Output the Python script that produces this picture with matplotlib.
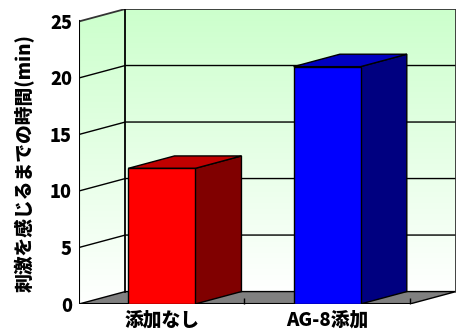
import matplotlib
matplotlib.use('Agg')
import matplotlib.pyplot as plt
import numpy as np
from matplotlib.patches import Polygon, Rectangle
from matplotlib.colors import LinearSegmentedColormap

plt.rcParams['font.family'] = ['Noto Sans CJK JP', 'DejaVu Sans']
plt.rcParams['font.weight'] = 'heavy'

categories = ['添加なし', 'AG-8添加']
values = [12, 21]
front_colors = ['#ff0000', '#0000ff']
top_colors = ['#c00000', '#0000c0']
side_colors = ['#800000', '#000080']
yticks = [0, 5, 10, 15, 20, 25]
ylabel = '刺激を感じるまでの時間(min)'

# oblique depth of the 3D box, in data units
dx, dy = 0.28, 1.1
bar_w = 0.405

fig = plt.figure(figsize=(4.6, 3.29), dpi=100)
ax = fig.add_axes([79 / 460, 25 / 329, 377 / 460, 295 / 329])
x0, x1 = -0.5, len(categories) - 0.5
ymax = yticks[-1]
ax.set_xlim(x0, x1 + dx)
ax.set_ylim(0, ymax + dy)
for s in ax.spines.values():
    s.set_visible(False)

# wall gradient, white at the floor to pale green at the top
grad = np.linspace(0, 1, 256).reshape(-1, 1)
cmap = LinearSegmentedColormap.from_list('wall', ['#ffffff', '#ccffcc'])

# back wall
ax.imshow(grad, cmap=cmap, origin='lower', aspect='auto',
          extent=[x0 + dx, x1 + dx, dy, ymax + dy], zorder=0)

# left wall
left = Polygon([(x0, 0), (x0 + dx, dy), (x0 + dx, ymax + dy), (x0, ymax)],
               closed=True, fc='none', ec='none')
ax.add_patch(left)
im = ax.imshow(grad, cmap=cmap, origin='lower', aspect='auto',
               extent=[x0, x0 + dx, 0, ymax + dy], zorder=0)
im.set_clip_path(left)

# floor
ax.add_patch(Polygon([(x0, 0), (x1, 0), (x1 + dx, dy), (x0 + dx, dy)],
                     closed=True, fc='#808080', ec='black', lw=1, zorder=1))

# gridlines on walls
for v in yticks[1:-1]:
    ax.plot([x0, x0 + dx, x1 + dx], [v, v + dy, v + dy], color='black', lw=1, zorder=1)
ax.plot([x0, x0 + dx, x1 + dx, x1 + dx], [ymax, ymax + dy, ymax + dy, dy],
        color='#333333', lw=1.3, zorder=1)
ax.plot([x0 + dx, x0 + dx], [dy, ymax + dy], color='black', lw=1.3, zorder=1)
ax.plot([x0, x0], [0, ymax], color='black', lw=1.5, zorder=1)
ax.plot([x0, x1], [0, 0], color='black', lw=1.5, zorder=1)

# bars
pos = np.arange(len(categories))
for i in range(len(categories)):
    c, v = pos[i], values[i]
    l, r = c - bar_w / 2, c + bar_w / 2
    ax.add_patch(Polygon([(r, 0), (r + dx, dy), (r + dx, v + dy), (r, v)],
                         closed=True, fc=side_colors[i], ec='black', lw=1, zorder=3))
    ax.add_patch(Polygon([(l, v), (r, v), (r + dx, v + dy), (l + dx, v + dy)],
                         closed=True, fc=top_colors[i], ec='black', lw=1, zorder=3))
    ax.add_patch(Rectangle((l, 0), bar_w, v, fc=front_colors[i], ec='black', lw=1, zorder=4))

ax.set_yticks(yticks)
ax.tick_params(axis='y', length=0, pad=5, labelsize=13)
ax.set_xticks(pos, categories)
ax.tick_params(axis='x', length=0, pad=5, labelsize=13.5)
ax.set_xticks([0.5, 1.5], minor=True)
ax.tick_params(axis='x', which='minor', direction='in', length=4, width=1, color='black')

fig.text(25 / 460, 1 - 163 / 329, ylabel, rotation=90, ha='center', va='center',
         fontsize=13.5, fontweight='heavy')

fig.savefig('out.png', dpi=100)
